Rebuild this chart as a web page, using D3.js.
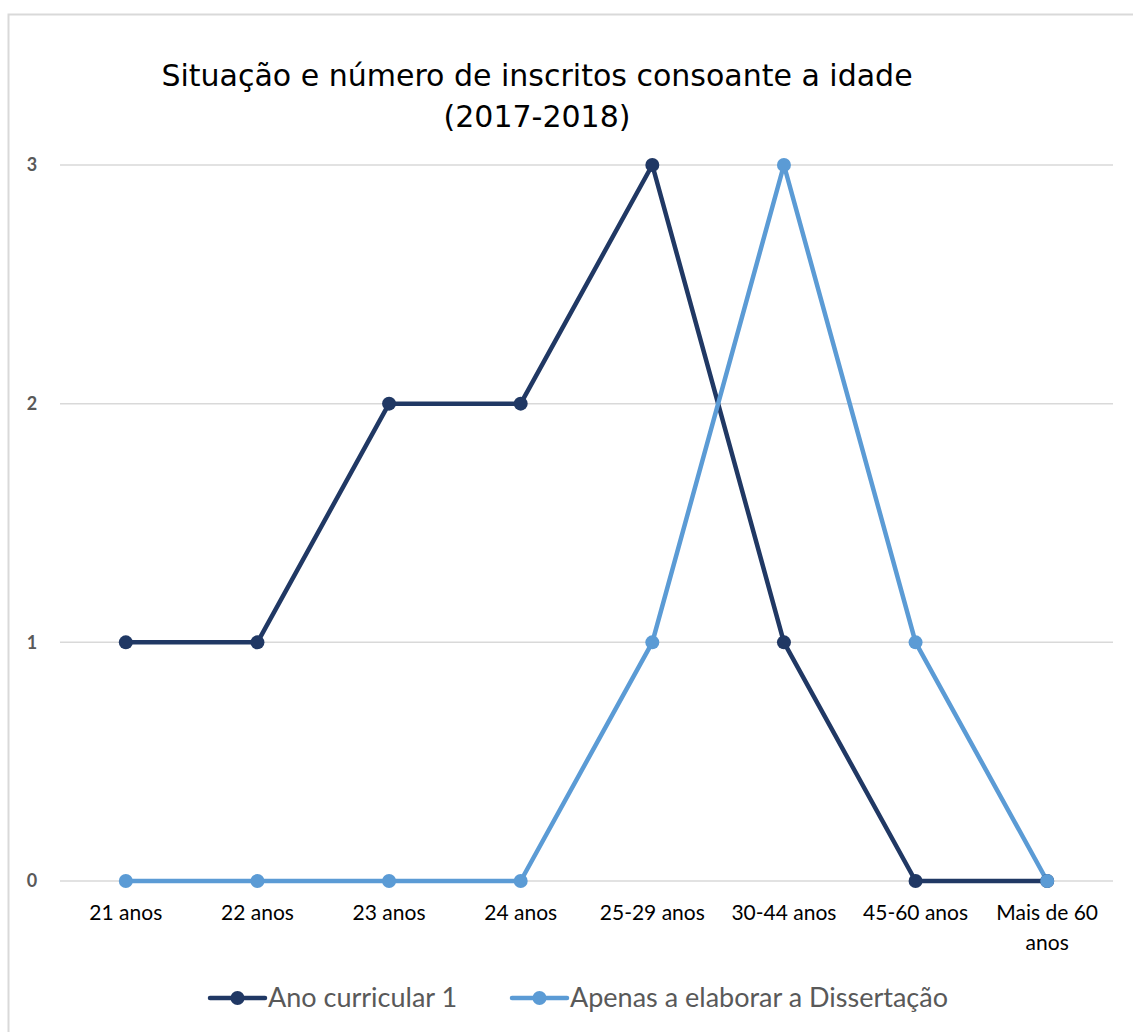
<!DOCTYPE html>
<html><head><meta charset="utf-8">
<script src="https://cdn.jsdelivr.net/npm/d3@7"></script>
<style>body{margin:0;background:#fff}svg{display:block}</style>
</head><body>
<script>
const categories = ["21 anos","22 anos","23 anos","24 anos","25-29 anos","30-44 anos","45-60 anos","Mais de 60 anos"];
const seriesNames = ["Ano curricular 1","Apenas a elaborar a Dissertação"];
const anoCurricular1 = [1,1,2,2,3,1,0,0];
const apenasDissertacao = [0,0,0,0,1,3,1,0];
const yTicks = [0,1,2,3];
const colors = ["#203864","#5B9BD5"];

const W=1133,H=1032;
const svg=d3.select("body").append("svg").attr("width",W).attr("height",H);
svg.append("rect").attr("x",8.5).attr("y",14.5).attr("width",1200).attr("height",1100)
  .attr("fill","#fff").attr("stroke","#d9d9d9").attr("stroke-width",2);

const x=d3.scaleBand().domain(categories).range([60,1113]);
const y=d3.scaleLinear().domain([0,3]).range([881,165]);
const cx=d=>x(d)+x.bandwidth()/2;

// gridlines
svg.append("g").selectAll("line").data(yTicks).join("line")
  .attr("x1",60).attr("x2",1113).attr("y1",d=>y(d)).attr("y2",d=>y(d))
  .attr("stroke","#d9d9d9").attr("stroke-width",1.5);
// y labels
svg.append("g").selectAll("text").data(yTicks).join("text")
  .attr("x",32).attr("y",d=>y(d)).attr("dy","0.35em").attr("text-anchor","middle")
  .attr("font-family","Lato, 'Open Sans', sans-serif").attr("font-weight","bold")
  .attr("font-size",18).attr("fill","#595959").text(d=>d);
// x labels
const xl=svg.append("g").selectAll("text").data(categories).join("text")
  .attr("x",d=>cx(d)).attr("y",920).attr("text-anchor","middle")
  .attr("font-family","Lato, 'Open Sans', sans-serif").attr("font-size",21).attr("fill","#000");
xl.each(function(d){
  const t=d3.select(this);
  if(d==="Mais de 60 anos"){
    t.append("tspan").attr("x",cx(d)).text("Mais de 60");
    t.append("tspan").attr("x",cx(d)).attr("dy",30).text("anos");
  } else t.text(d);
});

const data=[anoCurricular1,apenasDissertacao];
const line=d3.line().x((d,i)=>cx(categories[i])).y(d=>y(d));
data.forEach((vals,k)=>{
  svg.append("path").datum(vals).attr("d",line).attr("fill","none")
    .attr("stroke",colors[k]).attr("stroke-width",4.5).attr("stroke-linejoin","round");
});
data.forEach((vals,k)=>{
  svg.append("g").selectAll("circle").data(vals).join("circle")
    .attr("cx",(d,i)=>cx(categories[i])).attr("cy",d=>y(d)).attr("r",7).attr("fill",colors[k]);
});

// title
const title=svg.append("text").attr("text-anchor","middle")
  .attr("font-family","'DejaVu Sans', Verdana, sans-serif").attr("font-size",30).attr("fill","#000");
title.append("tspan").attr("x",537).attr("y",86).text("Situação e número de inscritos consoante a idade");
title.append("tspan").attr("x",537).attr("y",127).text("(2017-2018)");

// legend
const legX=[210,512];
seriesNames.forEach((n,k)=>{
  const g=svg.append("g");
  g.append("line").attr("x1",legX[k]).attr("x2",legX[k]+55).attr("y1",998).attr("y2",998)
    .attr("stroke",colors[k]).attr("stroke-width",4.5).attr("stroke-linecap","round");
  g.append("circle").attr("cx",legX[k]+27.5).attr("cy",998).attr("r",7).attr("fill",colors[k]);
  g.append("text").attr("x",legX[k]+58).attr("y",998).attr("dy","0.35em")
    .attr("font-family","Lato, 'Open Sans', sans-serif").attr("font-size",27).attr("fill","#595959").text(n);
});
</script>
</body></html>
